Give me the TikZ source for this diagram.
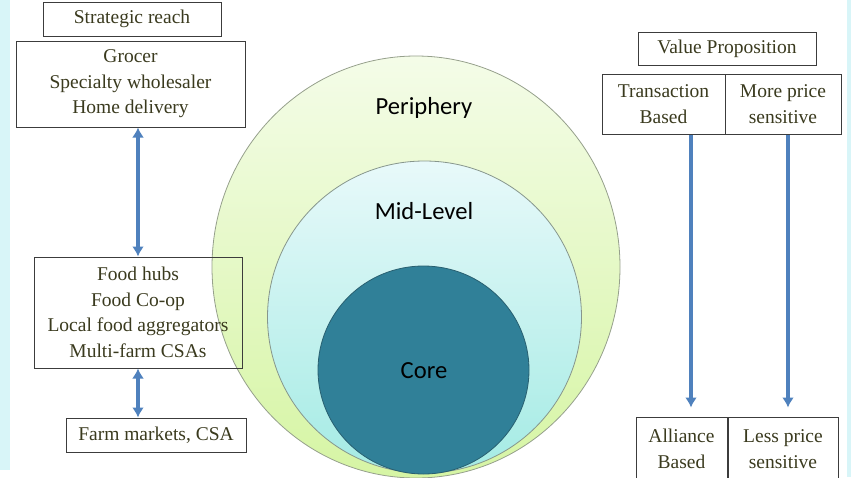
\documentclass[tikz,border=0pt]{standalone}
\usepackage{fontspec}
\setmainfont{Liberation Serif}
\newfontfamily\labelfont{Carlito}
\usetikzlibrary{arrows.meta,shapes.geometric,calc}
\definecolor{txt}{RGB}{58,58,30}
\definecolor{arrowblue}{RGB}{79,129,189}
\definecolor{strip}{RGB}{216,245,248}
\definecolor{boxline}{RGB}{60,60,60}
\definecolor{perTop}{RGB}{244,252,232}
\definecolor{perBot}{RGB}{214,245,164}
\definecolor{midTop}{RGB}{232,249,250}
\definecolor{midBot}{RGB}{164,235,228}
\definecolor{coreFill}{RGB}{48,128,152}
\tikzset{
  textbox/.style={draw=boxline, line width=1pt, text=txt, align=center,
    inner sep=0pt, font=\fontsize{19.5}{25.5}\selectfont},
  bluearrow/.style={draw=arrowblue, line width=3.6pt, -{Latex[length=10pt,width=12pt]}},
  bluedouble/.style={draw=arrowblue, line width=3.6pt, {Latex[length=10pt,width=12pt]}-{Latex[length=10pt,width=12pt]}},
  ringlabel/.style={font=\labelfont\fontsize{24.6}{28}\selectfont, text=black},
  ring/.style={ellipse, inner sep=0pt}
}
\begin{document}
\begin{tikzpicture}[x=1pt,y=-1pt]
\useasboundingbox (0,0) rectangle (851,477);
\begin{scope}
\clip (0,0) rectangle (851,477);
% side strips
\fill[strip] (0,0) rectangle (10,470);
\fill[strip] (847,0) rectangle (851,477);

% rings
\node[ring, draw={rgb,255:red,150;green,160;blue,140}, line width=0.8pt, top color=perTop, bottom color=perBot,
  minimum width=408pt, minimum height=422pt] (periphery) at (416,267) {};
\node[ring, draw={rgb,255:red,135;green,150;blue,140}, line width=0.8pt, top color=midTop, bottom color=midBot,
  minimum width=314pt, minimum height=312pt] (mid) at (424.5,317) {};
\node[ring, draw={rgb,255:red,40;green,95;blue,112}, line width=0.8pt, fill=coreFill,
  minimum width=211pt, minimum height=208pt] (core) at (423.5,370) {};
\node[ringlabel] (lper) at (424,108) {Periphery};
\node[ringlabel] (lmid) at (424,211) {Mid-Level};
\node[ringlabel] (lcore) at (424,371) {Core};

% left boxes
\node[textbox, minimum width=178pt, minimum height=34pt] (reach) at (132,19) {Strategic reach};
\node[textbox, minimum width=229pt, minimum height=86pt] (grocer) at (130.5,84)
  {Grocer\\Specialty wholesaler\\Home delivery};
\node[textbox, minimum width=208pt, minimum height=111pt] (hubs) at (138,312.5)
  {Food hubs\\Food Co-op\\Local food aggregators\\Multi-farm CSAs};
\node[textbox, minimum width=180pt, minimum height=34pt] (farm) at (156,435) {Farm markets, CSA};

% right boxes
\node[textbox, minimum width=178pt, minimum height=33pt] (value) at (727,48.5) {Value Proposition};
\node[textbox, minimum width=123pt, minimum height=60pt] (trans) at (663.5,104) {Transaction\\Based};
\node[textbox, minimum width=116pt, minimum height=60pt] (more) at (783,104) {More price\\sensitive};
\node[textbox, minimum width=91pt, minimum height=64pt] (alliance) at (681.5,449) {Alliance\\Based};
\node[textbox, minimum width=110pt, minimum height=64pt] (less) at (783,449) {Less price\\sensitive};

% arrows
\draw[bluedouble] (hubs.north |- grocer.south) -- (hubs.north);
\draw[bluedouble] (hubs.south) -- (hubs.south |- farm.north);
\draw[bluearrow] ([xshift=27.5pt]trans.south) -- ([xshift=9.5pt,yshift=9pt]alliance.north);
\draw[bluearrow] ([xshift=5pt]more.south) -- ([xshift=5pt,yshift=9pt]less.north);
\end{scope}
\end{tikzpicture}
\end{document}
